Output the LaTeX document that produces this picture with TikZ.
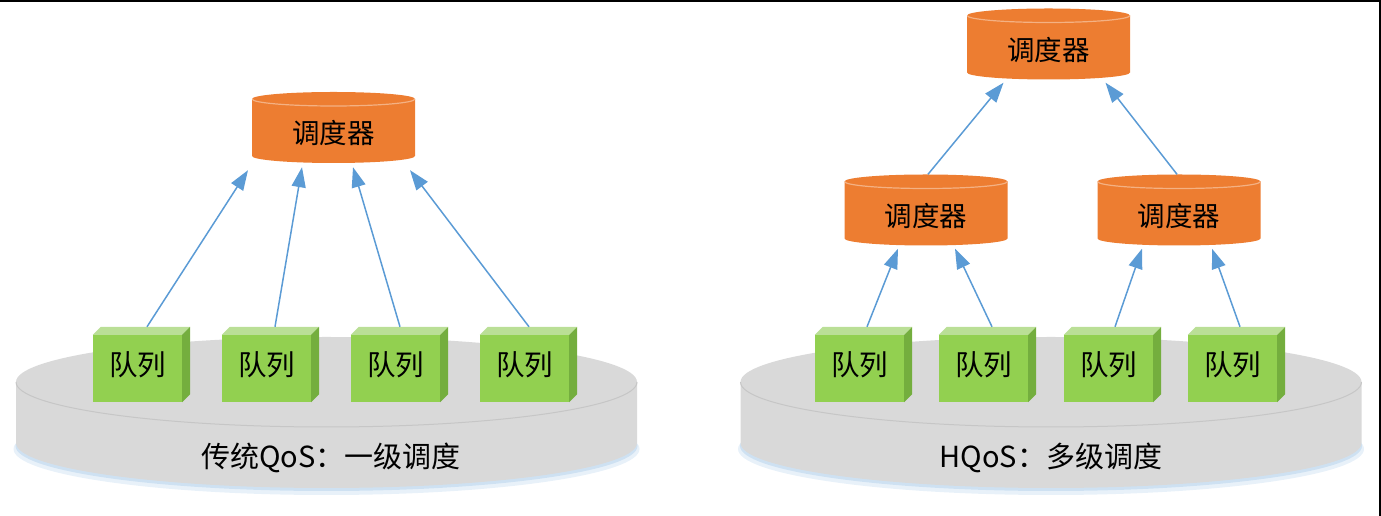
\documentclass[tikz,border=0pt]{standalone}
\usepackage{fontspec}
\setmainfont{Noto Sans CJK SC}
\usepackage{xcolor}
\usepackage{tikz}
\usetikzlibrary{arrows.meta, positioning}
\definecolor{schedorange}{HTML}{ED7D31}
\definecolor{schedrim}{HTML}{F4B183}
\definecolor{qfront}{HTML}{92D050}
\definecolor{qtop}{HTML}{BADF96}
\definecolor{qside}{HTML}{74AE3E}
\definecolor{flowblue}{HTML}{5B9BD5}
\definecolor{platgray}{HTML}{D9D9D9}
\definecolor{platline}{HTML}{C6C6C6}
\definecolor{platglow}{HTML}{BDD7EE}
\newcommand{\schedfont}{\fontsize{27.5}{30}\selectfont}
\newcommand{\queuefont}{\fontsize{28.5}{30}\selectfont}
\newcommand{\capfont}{\fontsize{29}{32}\selectfont}
\tikzstyle{flow} = [line width=1.5pt, draw=flowblue, -{Triangle[length=20pt,width=14pt]}]

\begin{document}
\begin{tikzpicture}[x=1pt, y=1pt,
    sched/.style={rectangle, minimum width=163pt, minimum height=71pt, inner sep=0pt,
                  font=\schedfont, text height=33pt, text depth=0pt,
                  path picture={
                    \fill[schedorange] ([yshift=-7pt]path picture bounding box.north west)
                      arc[start angle=180, end angle=0, x radius=81.5pt, y radius=7pt]
                      -- ([yshift=7pt]path picture bounding box.south east)
                      arc[start angle=0, end angle=-180, x radius=81.5pt, y radius=7pt] -- cycle;
                    \draw[schedrim, line width=1.2pt] ([yshift=-7pt]path picture bounding box.north west)
                      arc[start angle=180, end angle=360, x radius=81.5pt, y radius=7pt];
                  }},
    queue/.style={rectangle, fill=qfront, minimum width=89pt, minimum height=67pt,
                  inner sep=0pt, font=\queuefont, text height=22pt, text depth=8pt},
    caption/.style={font=\capfont}
]
  \useasboundingbox (0,0) rectangle (1381,516);
  \draw[line width=2.4pt] (0,515) -- (1380,515) -- (1380,0);

  % --- the two platforms ---
  \foreach \cx in {326.5, 1051} {
    \fill[platglow, opacity=0.35] (\cx,67) ellipse [x radius=313pt, y radius=46pt];
    \fill[platglow, opacity=0.6]  (\cx,70) ellipse [x radius=311pt, y radius=45pt];
    \fill[platgray] ({\cx-310.5},134) -- ({\cx-310.5},73)
      arc[start angle=180, end angle=360, x radius=310.5pt, y radius=45pt]
      -- ({\cx+310.5},134)
      arc[start angle=0, end angle=180, x radius=310.5pt, y radius=45pt] -- cycle;
    \draw[platline, line width=1pt] ({\cx-310.5},134)
      arc[start angle=180, end angle=360, x radius=310.5pt, y radius=45pt];
  }

  % --- queues ---
  \foreach \x [count=\i] in {137.5, 266.5, 395.5, 524.5} {
    \node[queue] (qa\i) at (\x,147.5) {队列};
    \fill[qtop] (qa\i.north west) -- ++(8,8) -- ([shift={(8,8)}]qa\i.north east) -- (qa\i.north east) -- cycle;
    \fill[qside] (qa\i.north east) -- ++(8,8) -- ([shift={(8,8)}]qa\i.south east) -- (qa\i.south east) -- cycle;
  }
  \foreach \x [count=\i] in {859.5, 983.5, 1108.5, 1232.5} {
    \node[queue] (qb\i) at (\x,147.5) {队列};
    \fill[qtop] (qb\i.north west) -- ++(8,8) -- ([shift={(8,8)}]qb\i.north east) -- (qb\i.north east) -- cycle;
    \fill[qside] (qb\i.north east) -- ++(8,8) -- ([shift={(8,8)}]qb\i.south east) -- (qb\i.south east) -- cycle;
  }

  % --- schedulers ---
  \node[sched] (sA) at (333.5,388.5) {调度器};
  \node[sched] (sT) at (1048.5,472)  {调度器};
  \node[sched] (sL) at (926,306)     {调度器};
  \node[sched] (sR) at (1179,306)    {调度器};

  % --- one level ---
  \draw[flow] ([xshift=9.5pt,yshift=8pt]qa1.north) -- ([xshift=-85.5pt,yshift=-7pt]sA.south);
  \draw[flow] ([xshift=8.5pt,yshift=8pt]qa2.north) -- ([xshift=-31.5pt,yshift=-4pt]sA.south);
  \draw[flow] ([xshift=4.5pt,yshift=8pt]qa3.north) -- ([xshift=19.5pt,yshift=-4pt]sA.south);
  \draw[flow] ([xshift=4.5pt,yshift=8pt]qa4.north) -- ([xshift=76.5pt,yshift=-7pt]sA.south);

  % --- several levels ---
  \draw[flow] ([xshift=7.5pt,yshift=8pt]qb1.north) -- ([xshift=-28pt,yshift=-3pt]sL.south);
  \draw[flow] ([xshift=8.5pt,yshift=8pt]qb2.north) -- ([xshift=29pt,yshift=-3pt]sL.south);
  \draw[flow] ([xshift=6.5pt,yshift=8pt]qb3.north) -- ([xshift=-37pt,yshift=-3pt]sR.south);
  \draw[flow] ([xshift=7.5pt,yshift=8pt]qb4.north) -- ([xshift=33pt,yshift=-3pt]sR.south);
  \draw[flow] ([xshift=2pt]sL.north) -- ([xshift=-45pt,yshift=-3pt]sT.south);
  \draw[flow] ([xshift=-2pt]sR.north) -- ([xshift=57pt,yshift=-3pt]sT.south);

  \node[caption] (capA) at (331,58)  {传统QoS：一级调度};
  \node[caption] (capB) at (1051,58) {HQoS：多级调度};
\end{tikzpicture}
\end{document}
